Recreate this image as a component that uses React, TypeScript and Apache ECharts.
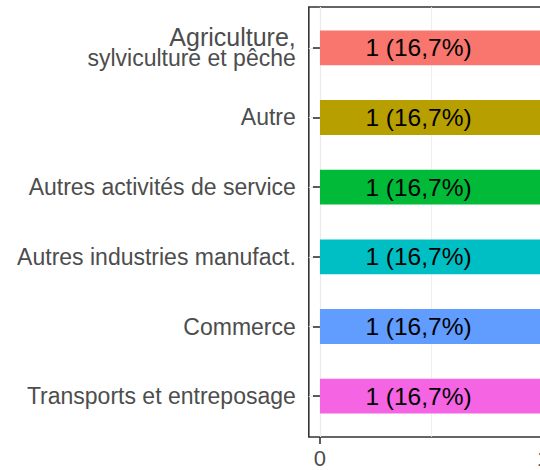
import React, { useEffect, useRef } from "react";
import * as echarts from "echarts";

const categories = [
  "Agriculture,\nsylviculture et pêche",
  "Autre",
  "Autres activités de service",
  "Autres industries manufact.",
  "Commerce",
  "Transports et entreposage",
];
const counts = [1, 1, 1, 1, 1, 1];
const barColors = ["#F8766D", "#B79F00", "#00BA38", "#00BFC4", "#619CFF", "#F564E3"];
const xTickValues = [0, 1];
const xMinorGrid = [0.5];

const FONT = "'Liberation Sans', Arial, Helvetica, sans-serif";

export default function App() {
  const ref = useRef<HTMLDivElement>(null);
  useEffect(() => {
    if (!ref.current) return;
    const chart = echarts.init(ref.current, undefined, { renderer: "svg" });
    const total = counts.reduce((a, b) => a + b, 0);
    const step = 430 / (categories.length + 1.2);
    const pad = step * 0.6 - step * 0.5;
    const option: any = {
      animation: false,
      backgroundColor: "#ffffff",
      grid: [
        {
          left: 308.8,
          top: 7,
          width: 245.4,
          bottom: 33,
          show: true,
          borderColor: "#333333",
          borderWidth: 1.6,
          backgroundColor: "#ffffff",
          containLabel: false,
          outerBoundsMode: "none",
        },
        {
          left: 308.8,
          top: 7 + pad,
          width: 245.4,
          bottom: 33 + pad,
          containLabel: false,
          outerBoundsMode: "none",
        },
      ],
      xAxis: [
        {
          type: "value",
          gridIndex: 0,
          min: -0.05,
          max: 1.05,
          axisLine: { show: false },
          axisTick: {
            show: true,
            customValues: xTickValues,
            length: 7,
            lineStyle: { color: "#333333", width: 1.6 },
          },
          axisLabel: {
            show: true,
            customValues: xTickValues,
            margin: 10,
            color: "#4D4D4D",
            fontSize: 22,
            fontFamily: FONT,
            hideOverlap: false,
          },
          splitLine: { show: false },
        },
        {
          type: "value",
          gridIndex: 1,
          min: -0.05,
          max: 1.05,
          show: false,
        },
      ],
      yAxis: [
        {
          type: "value",
          gridIndex: 0,
          min: 0,
          max: 1,
          show: false,
        },
        {
          type: "category",
          gridIndex: 1,
          data: categories,
          inverse: true,
          axisLine: { show: false },
          axisTick: {
            show: true,
            alignWithLabel: true,
            length: 7,
            lineStyle: { color: "#333333", width: 1.6 },
          },
          axisLabel: {
            margin: 13,
            color: "#4D4D4D",
            fontSize: 23,
            lineHeight: 21,
            fontFamily: FONT,
            align: "right",
            formatter: (v: string) => {
              const lines = v.split("\n");
              if (lines.length > 1) {
                return `{a|${lines[0]}}\n{b|${lines.slice(1).join("\n")}}`;
              }
              return `{b|${v}}`;
            },
            rich: {
              a: { fontSize: 25, lineHeight: 21, color: "#4D4D4D", fontFamily: FONT, align: "right" },
              b: { fontSize: 23, lineHeight: 21, color: "#4D4D4D", fontFamily: FONT, align: "right" },
            },
          },
          splitLine: { show: false },
        },
      ],
      series: [
        {
          type: "line",
          xAxisIndex: 0,
          yAxisIndex: 0,
          data: [],
          z: 0,
          silent: true,
          markLine: {
            silent: true,
            z: 0,
            symbol: "none",
            label: { show: false },
            data: [
              ...xTickValues.map((v) => ({ xAxis: v, lineStyle: { color: "#EBEBEB", width: 1.2, type: "solid" } })),
              ...xMinorGrid.map((v) => ({ xAxis: v, lineStyle: { color: "#EBEBEB", width: 0.8, type: "solid" } })),
            ],
          },
        },
        {
          type: "line",
          xAxisIndex: 1,
          yAxisIndex: 1,
          data: [],
          z: 0,
          silent: true,
          markLine: {
            silent: true,
            z: 0,
            symbol: "none",
            label: { show: false },
            data: categories.map((c) => ({ yAxis: c, lineStyle: { color: "#EBEBEB", width: 1.2, type: "solid" } })),
          },
        },
        {
          type: "bar",
          xAxisIndex: 1,
          yAxisIndex: 1,
          z: 10,
          barWidth: "50%",
          data: counts.map((v, i) => ({ value: v, itemStyle: { color: barColors[i] } })),
          label: {
            show: true,
            position: "inside",
            offset: [-13, 0],
            color: "#000000",
            fontSize: 24.5,
            fontFamily: FONT,
            formatter: (p: any) =>
              `${p.value} (${((p.value / total) * 100).toFixed(1).replace(".", ",")}%)`,
          },
        },
      ],
    };
    chart.setOption(option);
    return () => chart.dispose();
  }, []);
  return (
    <div
      ref={ref}
      style={{ position: "fixed", left: 0, top: 0, width: 540, height: 470 }}
    />
  );
}
